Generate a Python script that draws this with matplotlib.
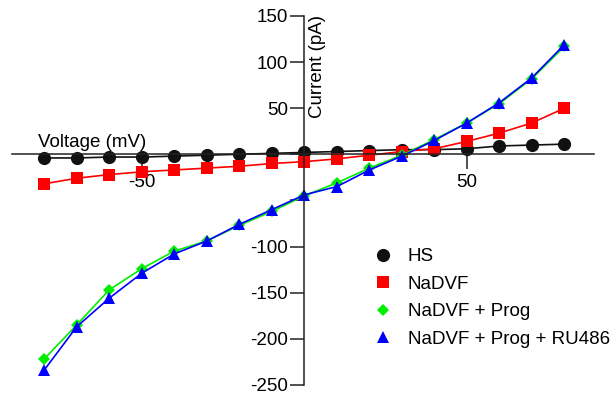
import matplotlib
matplotlib.use("Agg")
import matplotlib.pyplot as plt
from matplotlib.lines import Line2D

plt.rcParams["font.family"] = ["Liberation Sans", "DejaVu Sans"]

# Voltage steps (mV)
voltage = [-80, -70, -60, -50, -40, -30, -20, -10, 0, 10, 20, 30, 40, 50, 60, 70, 80]

# Currents (pA)
hs = [-4, -4, -3, -3, -2, -1, 0, 1, 2, 3, 4, 5, 5, 6, 9, 10, 11]
nadvf = [-32, -26, -22, -19, -17, -15, -13, -10, -8, -5, -1, 3, 6, 14, 23, 34, 50]
nadvf_prog = [-222, -185, -147, -124, -105, -94, -77, -62, -45, -31, -15, -1, 16, 34, 55, 82, 117]
nadvf_prog_ru = [-234, -187, -156, -129, -108, -94, -76, -60, -44, -35, -17, -2, 15, 34, 56, 83, 119]

labels = ["HS", "NaDVF", "NaDVF + Prog", "NaDVF + Prog + RU486"]
colors = ["#111111", "#ff0000", "#00ee00", "#0000ff"]
markers = ["o", "s", "D", "^"]
msizes = [9.5, 9, 6, 9]

fs = 13.5

fig = plt.figure(figsize=(6.14, 3.98), dpi=100)
ax = fig.add_axes([0.019, 0.033, 0.948, 0.927])

series = [hs, nadvf, nadvf_prog, nadvf_prog_ru]
for vals, lab, c, m, ms in zip(series, labels, colors, markers, msizes):
    ax.plot(voltage, vals, color=c, marker=m, markersize=ms, linewidth=1.2,
            markeredgewidth=0, label=lab, clip_on=False)

ax.set_xlim(-90, 89)
ax.set_ylim(-250, 150)

# axes crossing at the origin
ax.spines["left"].set_position(("data", 0))
ax.spines["bottom"].set_position(("data", 0))
ax.spines["right"].set_visible(False)
ax.spines["top"].set_visible(False)
for s in ("left", "bottom"):
    ax.spines[s].set_linewidth(1.1)
    ax.spines[s].set_color("#222222")

ax.set_xticks([-50, 50])
ax.set_xticklabels(["-50", "50"])
ax.set_yticks([-250, -200, -150, -100, -50, 0, 50, 100, 150])
ax.set_yticklabels(["-250", "-200", "-150", "-100", "", "", "50", "100", "150"])
ax.tick_params(axis="x", direction="out", length=11, width=1.1, pad=3,
               labelsize=fs, color="#222222")
ax.tick_params(axis="y", direction="out", length=10, width=1.1, pad=1.5,
               labelsize=fs, color="#222222")

ax.text(-82, 4, "Voltage (mV)", ha="left", va="bottom", fontsize=fs)
ax.text(1.5, 151, "Current (pA)", rotation=90, ha="left", va="top", fontsize=fs)

handles = [Line2D([], [], color=c, marker=m, markersize=ms, linestyle="none",
                  markeredgewidth=0)
           for c, m, ms in zip(colors, markers, msizes)]
ax.legend(handles, labels, loc="upper left", bbox_to_anchor=(0.59, 0.416),
          frameon=False, fontsize=fs, handletextpad=0.7, labelspacing=0.55,
          handlelength=1.2)

fig.savefig("out.png", dpi=100)
